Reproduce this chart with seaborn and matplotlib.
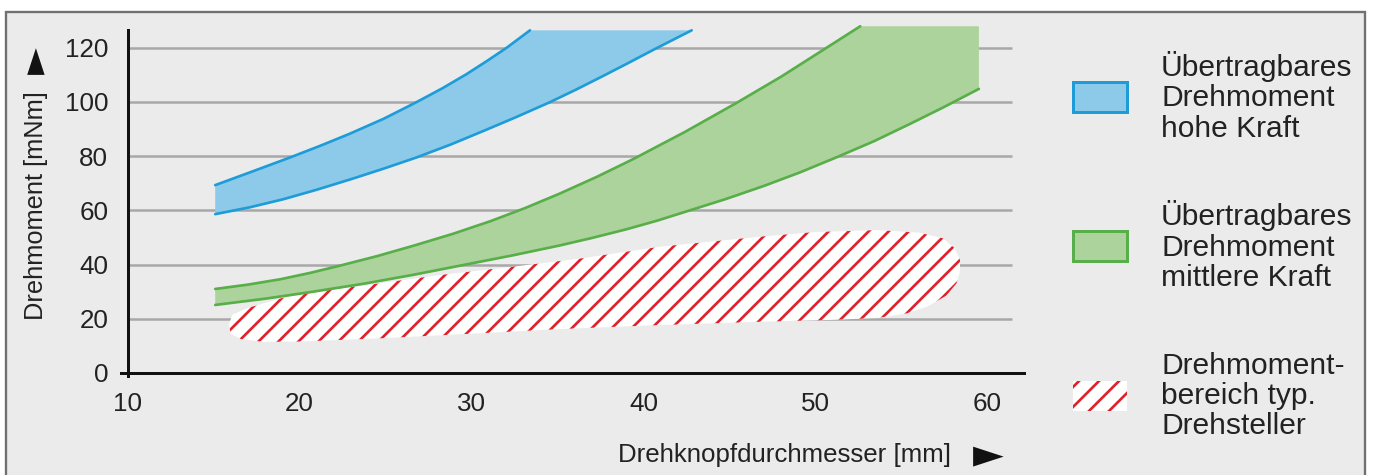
import numpy as np
import matplotlib
matplotlib.use("Agg")
import matplotlib.pyplot as plt
from matplotlib.patches import Rectangle
import seaborn as sns

sns.set_style("white")
plt.rcParams['font.family'] = ['Liberation Sans', 'DejaVu Sans']
plt.rcParams['hatch.linewidth'] = 1.6

# --- data ---
x_ticks = [10, 20, 30, 40, 50, 60]
y_ticks = [0, 20, 40, 60, 80, 100, 120]

# blue band (hohe Kraft)
blue_x_hi = [15.1, 17.2, 19.45, 21.2, 22.9, 24.9, 26.8, 28.3, 29.7, 30.9, 32.05, 33.4]
blue_hi = [69.3, 74.2, 79.5, 83.8, 88.2, 93.8, 99.9, 105, 110.2, 115.1, 120, 126.4]
blue_x_lo = [15.1, 17.1, 19.06, 21, 23, 24.9, 26.8, 28.8, 30.7, 32.6, 34.56, 36.1, 37.6, 39.1, 40.6, 42.8]
blue_lo = [58.6, 61.1, 64.1, 67.6, 71.5, 75.4, 79.5, 84.3, 89.3, 94.4, 99.9, 104.6, 109.4, 114.3, 119.3, 126.4]
blue_top = 126.4

# green band (mittlere Kraft)
green_x_hi = [15.1, 17, 18.9, 20.6, 22.35, 24.5, 26.6, 28.9, 31.1, 33.1, 35.1, 37.3, 39.4, 42.4, 45.4, 48, 50.65, 52.6]
green_hi = [31, 32.6, 34.6, 36.9, 39.6, 43.1, 46.9, 51.3, 56, 60.8, 66.1, 72.4, 78.9, 88.9, 99.6, 109.3, 120, 127.9]
green_x_lo = [15.1, 18, 20.8, 23.8, 26.6, 29.5, 32.4, 35.1, 37, 39, 40.8, 42.5, 44.8, 47, 49.1, 51.2, 53.4, 55.5, 57.5, 59.5]
green_lo = [25.1, 27.4, 30, 33, 36.2, 39.8, 43.4, 47, 49.8, 53, 56.2, 59.6, 64.2, 69, 74, 79.5, 85.5, 91.9, 98.2, 104.8]
green_top = 127.9

# hatched region (typ. Drehsteller), outline
blob_x = [16, 16.6, 17.9, 20, 24.7, 30, 35.1, 41, 46.8, 51, 53.6, 55.3, 56.5, 57.6, 58.2, 58.4,
          58.4, 58.1, 57.4, 56, 53.6, 50, 46.8, 41, 36.3, 32.4, 28, 24.7, 21, 18.9, 17, 16.1, 15.9]
blob_y = [14.5, 12.5, 11.5, 11.6, 12.8, 14.5, 16.2, 17.7, 18.9, 19.6, 20.3, 22, 24.5, 28.5, 33.1, 37.5,
          41.7, 46, 49.7, 51.8, 52.7, 52, 50.3, 46.6, 42.2, 39.2, 36, 33.1, 30, 27.5, 24, 21.5, 18]

legend_labels = ["Übertragbares\nDrehmoment\nhohe Kraft",
                 "Übertragbares\nDrehmoment\nmittlere Kraft",
                 "Drehmoment-\nbereich typ.\nDrehsteller"]

blue_line, blue_fill = '#1d9cd8', '#8dcaea'
green_line, green_fill = '#58ae48', '#acd39c'
red = '#e0222c'
grid_c = '#a8a8a8'

W, H, DPI = 1373, 475, 120
fig = plt.figure(figsize=(W / DPI, H / DPI), dpi=DPI)
fig.patch.set_facecolor('white')
fig.add_artist(Rectangle((6 / W, -0.05), 1359 / W, 1.05 - 12 / H, transform=fig.transFigure,
                         facecolor='#ebebeb', edgecolor='#707070', lw=1.4, zorder=0))

x0, x1, y0, y1 = 9.6, 62.1, -1, 128.5
pxx, pxy = 17.2, 2.711
left_px = 127.5 - (10 - x0) * pxx
right_px = 127.5 + (x1 - 10) * pxx
bot_px = 373 + (0 - y0) * pxy
top_px = 373 - y1 * pxy
ax = fig.add_axes([left_px / W, 1 - bot_px / H, (right_px - left_px) / W, (bot_px - top_px) / H])
ax.set_facecolor('none')
ax.set_xlim(x0, x1)
ax.set_ylim(y0, y1)

# grid lines
ax.hlines(y_ticks[1:], 10, 61.4, color=grid_c, lw=1.5, zorder=1)

# hatched region
ax.fill(blob_x, blob_y, facecolor='white', edgecolor=red, lw=0, hatch='//', zorder=2)

# green band
gx = green_x_lo + [green_x_lo[-1], green_x_hi[-1]] + green_x_hi[::-1]
gy = green_lo + [green_top, green_top] + green_hi[::-1]
ax.fill(gx, gy, color=green_fill, lw=0, zorder=3)
sns.lineplot(x=green_x_hi, y=green_hi, ax=ax, color=green_line, lw=1.6, sort=False, estimator=None, zorder=4)
sns.lineplot(x=green_x_lo, y=green_lo, ax=ax, color=green_line, lw=1.6, sort=False, estimator=None, zorder=4)

# blue band
bx = blue_x_lo + [blue_x_lo[-1], blue_x_hi[-1]] + blue_x_hi[::-1]
by = blue_lo + [blue_top, blue_top] + blue_hi[::-1]
ax.fill(bx, by, color=blue_fill, lw=0, zorder=3)
sns.lineplot(x=blue_x_hi, y=blue_hi, ax=ax, color=blue_line, lw=1.6, sort=False, estimator=None, zorder=4)
sns.lineplot(x=blue_x_lo, y=blue_lo, ax=ax, color=blue_line, lw=1.6, sort=False, estimator=None, zorder=4)

# axes
for s in ['top', 'right']:
    ax.spines[s].set_visible(False)
ax.spines['left'].set_position(('data', 10))
ax.spines['bottom'].set_position(('data', 0))
ax.spines['left'].set_bounds(y0, 126.5)
ax.spines['bottom'].set_bounds(x0, x1)
for s in ['left', 'bottom']:
    ax.spines[s].set_color('#111111')
    ax.spines[s].set_linewidth(1.8)
    ax.spines[s].set_zorder(5)
ax.set_xticks(x_ticks)
ax.set_yticks(y_ticks)
ax.tick_params(axis='x', direction='inout', length=6.6, width=1, color='#999999',
               labelsize=15.6, pad=8, labelcolor='#222222')
ax.tick_params(axis='y', direction='out', length=3, width=1.5, color=grid_c,
               labelsize=15.6, pad=8.5, labelcolor='#222222')
ax.set_xlabel('')
ax.set_ylabel('')

# axis titles with arrows
fig.text(36 / W, 1 - 206 / H, 'Drehmoment [mNm]', rotation=90, ha='center', va='center',
         fontsize=15.2, color='#222222')
fig.text(36 / W, 1 - 61 / H, '►', rotation=90, ha='center', va='center', fontsize=21,
         color='#111111', family=['DejaVu Sans'])
fig.text(785 / W, 1 - 455 / H, 'Drehknopfdurchmesser [mm]', ha='center', va='center',
         fontsize=15.5, color='#222222')
fig.text(988 / W, 1 - 455 / H, '►', ha='center', va='center', fontsize=24,
         color='#111111', family=['DejaVu Sans'])

# legend built by hand
leg_y = [97, 246, 396]
patch_kw = [dict(facecolor=blue_fill, edgecolor=blue_line, lw=1.8),
            dict(facecolor=green_fill, edgecolor=green_line, lw=1.8),
            dict(facecolor='white', edgecolor=red, lw=0, hatch='//')]
for yc, lab, kw in zip(leg_y, legend_labels, patch_kw):
    fig.add_artist(Rectangle((1073 / W, 1 - (yc + 15) / H), 54 / W, 30 / H,
                             transform=fig.transFigure, zorder=3, **kw))
    fig.text(1161 / W, 1 - yc / H, lab, ha='left', va='center', fontsize=18,
             color='#222222', linespacing=1.1)

fig.savefig('out.png', dpi=DPI)
